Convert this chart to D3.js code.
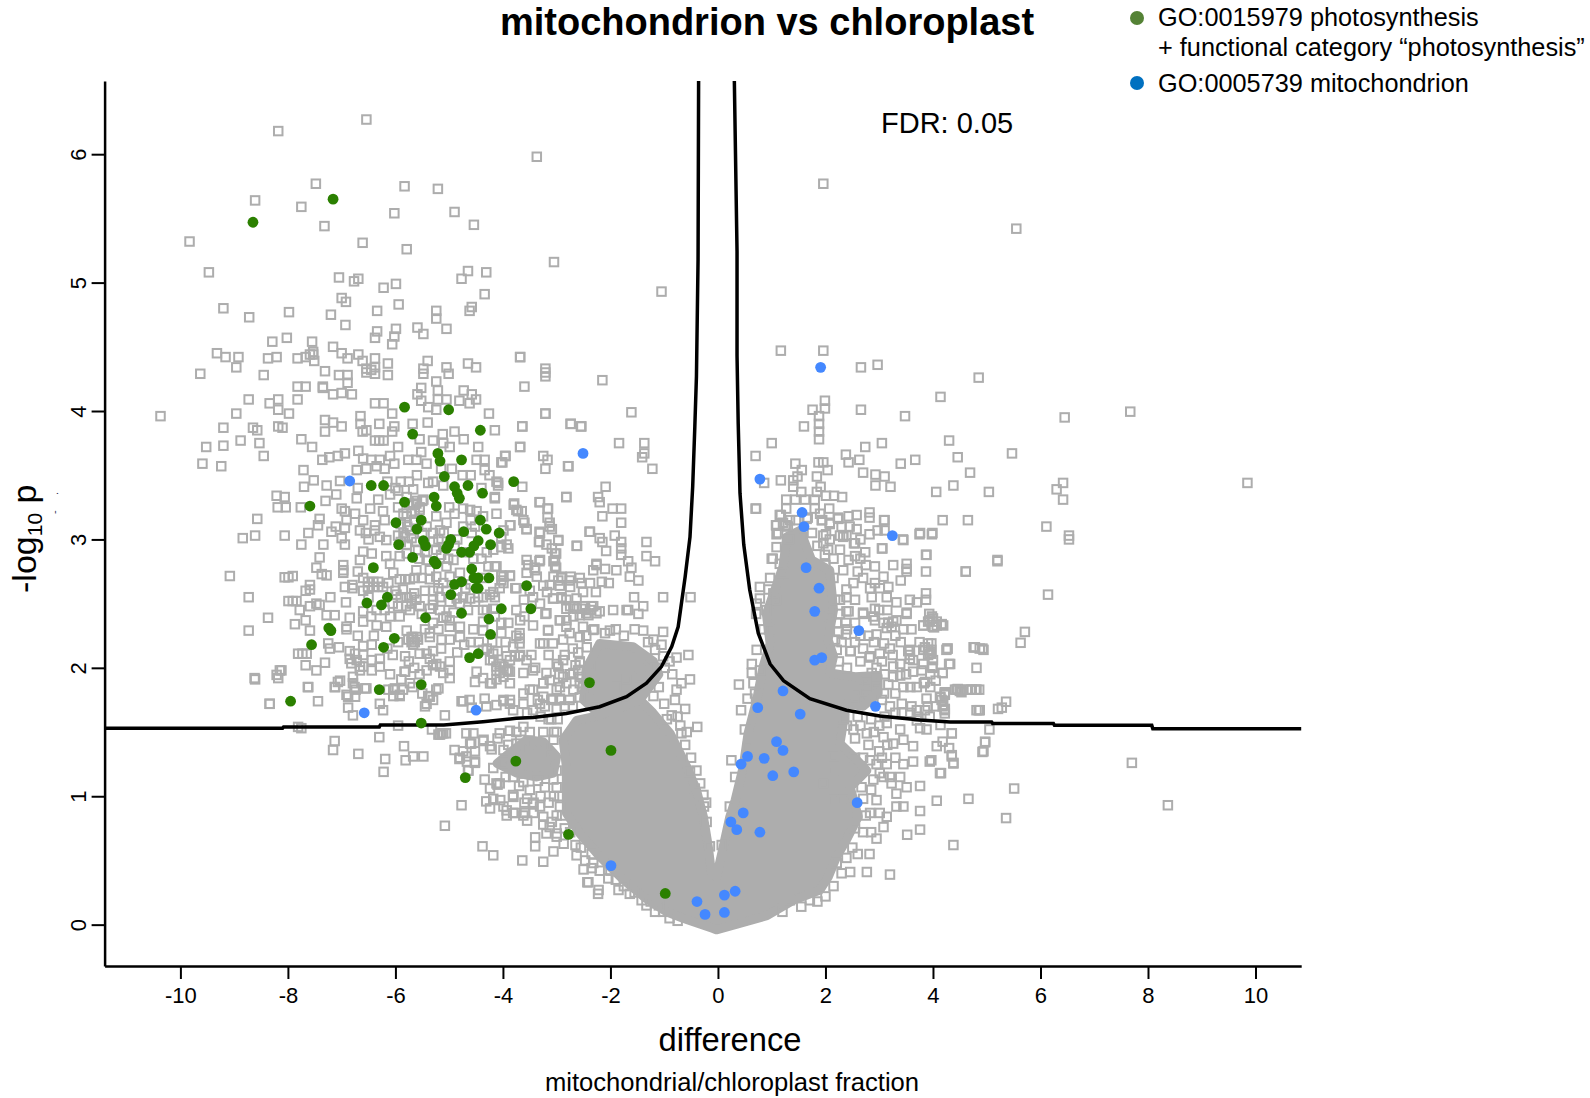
<!DOCTYPE html>
<html>
<head>
<meta charset="utf-8">
<script src="https://cdn.jsdelivr.net/npm/d3@7"></script>
<style>
  html, body { margin: 0; background: #fff; }
  svg { display: block; }
  text { font-family: "Liberation Sans", Arial, sans-serif; fill: #000; }
</style>
</head>
<body>
<div id="chart"></div>
<script>
const width = 1590;
const height = 1098;

const xTicks = [-10, -8, -6, -4, -2, 0, 2, 4, 6, 8, 10];
const yTicks = [0, 1, 2, 3, 4, 5, 6];

// upper left cloud as [difference, -log10 p]
const grayUpperLeft = [[-6.54,6.27],[-8.18,6.18],[-3.37,5.98],[-7.48,5.77],[-5.83,5.75],[-5.21,5.73],[-8.61,5.64],[-7.75,5.59],[-6.02,5.54],[-4.90,5.55],[-4.54,5.45],[-7.32,5.44],[-9.83,5.32],[-6.61,5.31],[-5.79,5.26],[-3.05,5.16],[-9.47,5.08],[-7.05,5.04],[-6.77,5.01],[-6.69,5.03],[-6.22,4.96],[-5.99,4.99],[-4.65,5.09],[-4.31,5.08],[-4.77,5.03],[-4.34,4.91],[-7.00,4.88],[-6.92,4.85],[-9.20,4.80],[-8.72,4.73],[-7.98,4.77],[-7.20,4.75],[-6.34,4.78],[-5.94,4.83],[-5.24,4.78],[-5.24,4.72],[-4.58,4.81],[-4.62,4.78],[-6.93,4.67],[-6.34,4.62],[-6.38,4.57],[-5.99,4.64],[-6.02,4.58],[-6.06,4.52],[-5.59,4.65],[-5.48,4.60],[-5.05,4.64],[-8.29,4.54],[-8.02,4.57],[-7.55,4.54],[-7.53,4.46],[-7.53,4.44],[-7.59,4.44],[-7.51,4.39],[-9.32,4.45],[-9.16,4.42],[-8.92,4.42],[-8.96,4.34],[-8.37,4.41],[-8.21,4.42],[-7.82,4.41],[-7.67,4.42],[-7.16,4.50],[-7.0,4.45],[-6.89,4.41],[-6.69,4.44],[-6.61,4.39],[-6.38,4.41],[-6.54,4.33],[-6.38,4.34],[-6.38,4.29],[-6.54,4.30],[-6.45,4.32],[-6.14,4.37],[-6.14,4.28],[-5.40,4.39],[-5.48,4.33],[-5.48,4.29],[-5.05,4.34],[-5.01,4.29],[-4.65,4.37],[-4.50,4.34],[-3.68,4.42],[-3.21,4.33],[-3.21,4.30],[-3.21,4.27],[-9.63,4.29],[-8.45,4.28],[-7.31,4.31],[-7.05,4.28],[-6.89,4.28],[-6.89,4.22],[-5.24,4.23],[-3.60,4.19],[-7.82,4.19],[-7.67,4.19],[-7.35,4.19],[-7.35,4.18],[-7.16,4.13],[-7.0,4.14],[-6.81,4.13],[-5.52,4.18],[-5.59,4.13],[-5.52,4.08],[-5.21,4.16],[-5.21,4.09],[-5.05,4.09],[-4.81,4.08],[-4.73,4.16],[-4.58,4.13],[-4.50,4.09],[-4.62,4.06],[-8.73,4.09],[-8.18,4.09],[-8.34,4.06],[-8.18,4.01],[-7.98,3.98],[-7.82,4.09],[-6.38,4.06],[-6.22,4.06],[-6.06,3.98],[-5.39,4.03],[-5.24,4.01],[-4.26,3.98],[-3.21,3.98],[-10.37,3.96],[-8.96,3.98],[-9.2,3.87],[-8.65,3.87],[-8.57,3.85],[-8.18,3.88],[-8.10,3.87],[-7.31,3.93],[-7.16,3.91],[-7.0,3.88],[-7.31,3.84],[-6.65,3.96],[-6.65,3.90],[-6.61,3.84],[-6.54,3.85],[-6.30,3.90],[-6.02,3.88],[-6.06,3.84],[-5.68,3.90],[-5.40,3.91],[-4.15,3.85],[-3.64,3.88],[-2.74,3.90],[-2.55,3.88],[-9.52,3.72],[-9.2,3.73],[-8.88,3.77],[-8.53,3.75],[-8.45,3.65],[-9.59,3.59],[-9.24,3.57],[-7.75,3.78],[-7.55,3.72],[-6.38,3.77],[-6.30,3.77],[-6.22,3.77],[-5.95,3.72],[-5.55,3.78],[-5.30,3.77],[-5.12,3.82],[-4.90,3.84],[-4.73,3.78],[-5.11,3.75],[-4.99,3.72],[-4.46,3.72],[-3.68,3.72],[-3.95,3.65],[-4.03,3.60],[-3.25,3.65],[-3.17,3.62],[-3.21,3.55],[-2.79,3.57],[-6.69,3.69],[-6.60,3.63],[-7.36,3.62],[-7.23,3.64],[-7.07,3.65],[-6.94,3.67],[-7.71,3.54],[-6.45,3.62],[-6.29,3.62],[-6.10,3.65],[-6.02,3.59],[-5.76,3.62],[-5.61,3.62],[-5.52,3.68],[-6.35,3.57],[-6.2,3.55],[-6.72,3.54],[-6.54,3.55],[-5.42,3.59],[-4.49,3.62],[-4.34,3.62],[-4.34,3.54]];

// middle left cloud between -log10 p 1.7 and 3.5
const grayMiddleLeft = [[-8.21,3.34],[-8.06,3.33],[-8.19,3.25],[-8.04,3.25],[-7.76,3.25],[-8.57,3.16],[-8.84,3.01],[-8.61,3.03],[-8.06,3.03],[-7.75,2.96],[-7.62,3.05],[-7.41,3.16],[-7.44,3.11],[-7.52,3.46],[-7.70,3.41],[-7.28,3.42],[-7.03,3.455],[-6.72,3.32],[-7.0,3.24],[-6.94,3.22],[-6.91,3.15],[-7.11,3.10],[-6.94,3.09],[-6.66,3.07],[-7.19,3.06],[-7.34,2.96],[-7.0,3.01],[-6.94,2.96],[-7.41,2.86],[-7.47,2.78],[-7.28,2.72],[-7.37,2.73],[-6.97,2.80],[-6.97,2.76],[-6.97,2.74],[-6.94,2.63],[-6.80,2.645],[-6.80,2.62],[-6.60,2.905],[-6.44,2.89],[-6.66,2.84],[-6.38,3.11],[-6.38,3.07],[-6.29,3.02],[-6.17,2.995],[-6.23,3.22],[-6.20,3.15],[-6.32,3.31],[-6.47,3.24],[-7.99,2.705],[-7.91,2.715],[-8.06,2.705],[-9.08,2.715],[-8.73,2.55],[-8.37,2.39],[-8.73,2.29],[-7.87,2.34],[-7.59,2.645],[-7.59,2.61],[-7.67,2.60],[-7.99,2.52],[-7.91,2.52],[-7.84,2.52],[-7.78,2.45],[-7.59,2.48],[-7.47,2.50],[-7.41,2.49],[-7.67,2.37],[-7.59,2.29],[-7.21,2.55],[-6.92,2.51],[-7.28,2.41],[-7.13,2.41],[-6.85,2.39],[-6.60,2.36],[-6.60,2.44],[-6.91,2.30],[-6.91,2.32],[-7.25,2.19],[-7.05,2.16],[-7.22,2.15],[-7.81,2.11],[-7.73,2.11],[-7.65,2.11],[-7.67,2.02],[-7.47,1.98],[-7.31,2.04],[-8.15,1.98],[-8.21,1.945],[-8.18,1.92],[-8.61,1.91],[-7.62,1.85],[-7.44,1.74],[-8.34,1.72],[-7.03,1.90],[-7.12,1.85],[-6.79,1.88],[-6.74,1.83],[-6.88,1.775],[-6.54,1.84],[-6.75,1.775],[-6.85,2.13],[-6.75,2.11],[-6.60,2.17],[-6.44,2.18],[-6.72,2.06],[-6.60,2.10],[-6.85,2.07],[-6.82,2.035],[-6.60,2.01],[-6.44,2.06],[-6.29,2.07],[-6.66,1.98],[-6.44,1.98],[-6.29,2.01],[-5.82,2.09],[-5.55,2.11],[-5.82,1.97],[-6.01,1.84],[-5.86,1.83],[-6.13,1.83],[-5.92,1.78],[-6.04,1.78],[-5.20,1.84],[-5.36,1.775],[-5.42,1.72],[-5.42,2.11],[-5.30,2.02],[-5.17,2.01],[-4.99,1.98],[-4.99,1.92],[-4.74,1.74],[-4.52,1.89],[-4.58,1.69],[-4.37,1.92],[-4.21,1.88],[-4.12,2.01],[-3.93,1.98],[-3.99,1.93],[-4.49,1.97],[-5.36,2.24],[-5.14,2.22],[-4.99,2.22],[-4.80,2.24],[-5.79,2.29],[-5.67,2.24],[-5.70,2.20],[-5.58,2.22],[-5.36,2.27],[-4.99,2.37],[-5.05,2.40],[-4.92,2.43],[-4.80,2.32],[-4.99,2.32],[-4.37,2.29],[-4.37,2.36],[-4.15,2.40],[-4.03,2.35],[-4.03,2.27],[-6.35,2.33],[-6.17,2.32],[-6.10,2.40],[-5.92,2.40],[-5.70,2.50],[-5.79,2.55],[-5.70,2.55],[-5.61,2.53],[-5.55,2.48],[-5.73,2.45],[-5.51,2.42],[-5.86,2.61],[-5.98,2.57],[-6.51,2.67],[-6.41,2.67],[-6.32,2.67],[-6.51,2.63],[-6.41,2.63],[-6.32,2.63],[-6.23,2.63],[-6.13,2.66],[-6.04,2.74],[-5.92,2.69],[-5.82,2.69],[-5.73,2.69],[-5.64,2.70],[-5.51,2.70],[-5.36,2.69],[-5.24,2.71],[-5.11,2.66],[-6.10,2.81],[-5.92,2.87],[-6.17,2.87],[-5.79,2.89],[-5.61,2.76],[-5.42,2.84],[-5.36,2.76],[-5.58,2.92],[-5.05,2.79],[-4.92,2.84],[-4.99,2.71],[-4.80,2.74],[-5.79,3.33],[-5.67,3.39],[-5.61,3.28],[-5.48,3.31],[-5.70,3.20],[-5.79,3.18],[-5.55,3.23],[-5.39,3.44],[-5.30,3.45],[-5.11,3.42],[-5.73,3.07],[-5.82,3.02],[-5.70,3.01],[-5.79,2.96],[-5.61,2.98],[-5.42,3.10],[-5.30,3.05],[-5.30,2.98],[-5.24,2.92],[-5.05,3.13],[-5.17,3.07],[-5.11,2.94],[-5.24,3.18],[-4.74,3.24],[-4.61,3.23],[-4.49,3.22],[-4.37,3.18],[-4.15,3.32],[-4.09,3.44],[-4.52,3.10],[-4.58,3.05],[-4.12,3.20],[-3.99,3.07],[-3.93,2.96],[-4.18,2.92],[-4.03,2.94],[-4.74,3.10],[-4.15,2.79],[-3.99,2.71],[-3.99,2.66],[-4.27,2.79],[-4.37,2.70],[-4.06,2.62],[-4.37,2.55],[-4.24,2.57],[-4.15,2.55],[-4.61,2.54],[-4.52,2.515],[-4.46,2.55],[-4.74,2.55],[-4.65,2.45],[-4.37,2.45],[-4.18,2.46],[-5.30,2.53],[-5.17,2.55],[-5.30,2.49],[-5.17,2.45],[-5.36,2.46],[-5.11,2.39],[-4.99,2.515],[-4.86,2.54],[-4.80,2.50],[-4.37,2.14],[-4.24,2.06],[-4.12,1.98],[-4.06,2.03],[-3.93,2.09],[-3.90,1.98],[-5.36,2.07],[-5.24,2.03],[-4.99,2.05],[-5.42,1.98],[-5.11,1.96],[-4.12,1.91],[-5.67,3.27],[-5.60,3.30],[-5.55,3.25],[-5.64,3.22],[-5.5,3.3],[-5.76,2.22],[-5.70,2.24],[-5.64,2.20],[-5.60,2.24],[-5.67,2.18],[-5.95,3.25],[-5.85,3.2],[-5.75,3.28],[-5.9,3.12],[-5.85,3.05],[-5.95,3.03],[-5.9,2.98],[-5.78,3.1],[-5.65,3.15],[-5.5,3.05],[-5.45,2.9],[-5.55,2.85],[-5.2,3.0],[-5.15,2.88],[-5.1,3.05],[-4.9,2.95],[-4.85,3.0],[-5.02,2.85],[-4.9,3.2],[-5.0,3.25],[-4.6,3.15],[-4.65,2.9],[-4.4,2.85],[-4.3,2.9],[-4.55,2.85],[-6.0,2.6],[-5.9,2.55],[-5.8,2.48],[-5.95,2.48],[-6.05,2.5],[-6.2,2.45],[-6.35,2.45],[-6.45,2.4],[-6.5,2.55],[-5.65,2.58],[-5.45,2.6],[-5.3,2.6],[-5.2,2.62],[-5.05,2.6],[-4.85,2.6],[-4.7,2.62],[-4.6,2.65],[-5.45,2.3],[-5.3,2.35],[-5.2,2.3],[-5.15,2.15],[-5.3,2.13],[-4.85,2.12],[-4.72,2.18],[-4.6,2.2],[-4.55,2.3],[-4.2,2.2],[-4.3,2.15],[-4.1,2.13],[-5.75,2.05],[-5.65,2.0],[-5.55,1.95],[-5.68,1.85],[-5.5,1.8],[-6.15,2.15],[-6.05,2.1],[-6.1,1.95],[-5.95,2.2],[-6.4,2.25],[-6.7,2.25],[-6.6,2.7],[-6.7,2.75],[-6.6,2.6],[-6.55,3.05],[-6.6,3.15],[-6.75,3.2],[-6.5,3.0],[-6.1,3.35],[-6.15,3.45],[-6.0,3.4],[-5.9,3.45],[-5.95,3.38],[-6.7,3.4],[-7.1,3.35],[-7.3,3.3],[-4.4,3.4],[-4.25,3.5],[-4.6,3.5],[-4.75,3.5],[-4.95,3.55],[-5.15,3.55],[-5.6,3.5],[-5.75,3.45],[-4.3,2.45],[-4.45,2.2],[-3.95,2.2],[-3.75,2.25],[-3.9,2.35],[-3.75,2.45],[-3.6,2.4],[-3.5,2.6]];

// from x -4.1 up to the curve, above the threshold
const grayInnerLeft = [[-3.64,3.41],[-4.12,3.45],[-4.09,3.42],[-4.15,3.33],[-3.79,3.28],[-3.75,3.23],[-3.65,3.22],[-3.31,3.29],[-2.82,3.33],[-3.16,3.24],[-3.62,3.15],[-3.56,3.08],[-3.86,3.11],[-4.03,3.02],[-3.31,3.05],[-3.33,2.98],[-3.13,3.10],[-2.97,2.996],[-2.38,3.06],[-2.63,2.95],[-2.2,3.01],[-3.90,2.93],[-3.19,2.96],[-3.56,2.84],[-3.31,2.84],[-3.41,2.78],[-3.56,2.74],[-3.03,2.89],[-3.03,2.84],[-3.03,2.79],[-2.26,2.80],[-2.32,2.76],[-2.91,2.71],[-2.97,2.68],[-2.76,2.68],[-2.57,2.70],[-2.38,2.66],[-3.13,2.645],[-4.12,2.79],[-4.03,2.72],[-4.03,2.68],[-3.87,2.715],[-4.18,2.59],[-3.75,2.62],[-3.44,2.55],[-3.31,2.50],[-3.07,2.54],[-2.91,2.54],[-2.82,2.53],[-2.69,2.48],[-2.51,2.48],[-2.32,2.48],[-3.19,2.425],[-2.94,2.37],[-2.82,2.37],[-2.69,2.40],[-2.45,2.425],[-2.26,2.425],[-2.82,2.32],[-3.44,2.33],[-3.16,2.295],[-2.76,2.27],[-2.32,2.295],[-3.69,2.27],[-3.69,2.23],[-3.69,2.19],[-3.81,2.165],[-3.25,2.19],[-3.07,2.19],[-2.88,2.22],[-2.57,2.24],[-4.18,2.11],[-4.18,2.06],[-3.99,2.01],[-3.87,2.06],[-3.69,2.09],[-3.56,2.06],[-3.47,2.10],[-2.88,2.06],[-2.57,2.04],[-2.38,2.01],[-2.97,2.01],[-3.19,1.96],[-3.13,1.905],[-3.25,1.88],[-3.44,1.98],[-4.06,1.96],[-3.87,1.88],[-4.24,1.88],[-2.94,1.85],[-2.69,1.96],[-2.57,1.88],[-3.44,1.83],[-3.62,1.80],[-3.25,1.775],[-3.07,1.76],[-2.94,1.76],[-3.87,1.75],[-4.12,1.71],[-3.62,1.72],[-4.77,1.74],[-4.62,1.75],[-4.34,1.76],[-3.99,1.74],[-4.31,1.70],[-3.81,1.67],[-3.44,1.67],[-3.22,1.70],[-2.76,1.75],[-5.30,1.75],[-5.45,1.70],[-5.24,1.83],[-5.39,1.78],[-5.08,1.63],[-5.89,1.91],[-5.83,1.97],[-5.73,1.88],[-6.04,1.83],[-5.92,1.79],[-6.23,1.67],[-6.29,1.72],[-6.79,1.63],[-6.88,1.69],[-6.91,1.79],[-6.76,1.85],[-7.07,1.89],[-7.13,1.85],[-6.57,1.84],[-6.79,1.93],[-6.66,2.01],[-8.34,1.72],[-7.63,1.85],[-8.62,1.92],[-8.12,1.98],[-1.05,4.93],[-3.68,4.42],[-2.15,4.24],[-3.21,3.98],[-1.61,3.99],[-3.64,3.88],[-2.74,3.90],[-2.54,3.88],[-3.68,3.72],[-1.84,3.75],[-1.37,3.75],[-1.37,3.67],[-1.41,3.64],[-1.22,3.55],[-3.96,3.65],[-4.01,3.60],[-2.78,3.57],[-2.09,3.41],[-2.82,3.33],[-2.23,3.33],[-2.2,3.29],[-3.32,3.29],[-3.80,3.27],[-3.17,3.24],[-3.17,3.17],[-3.13,3.13],[-3.09,3.08],[-3.72,3.22],[-3.60,3.13],[-3.56,3.08],[-3.87,3.11],[-1.96,3.24],[-1.80,3.24],[-2.15,3.18],[-1.80,3.13],[-2.39,3.06],[-1.92,3.03],[-3.32,3.06],[-3.32,2.98],[-2.97,2.99],[-3.09,2.93],[-2.62,2.95],[-2.15,2.98],[-2.08,2.91],[-1.80,2.98],[-1.80,2.93],[-1.80,2.88],[-1.33,2.98],[-1.33,2.87],[-1.17,2.83],[-3.01,2.89],[-3.06,2.83],[-3.32,2.83],[-3.53,2.80],[-3.40,2.76],[-3.01,2.78],[-2.26,2.81],[-2.10,2.77],[-1.89,2.76],[-1.67,2.83],[-1.61,2.78],[-1.64,2.71],[-1.48,2.68],[-3.87,2.72],[-3.37,2.71],[-3.06,2.71],[-2.91,2.70],[-2.74,2.71],[-2.54,2.66],[-2.16,2.67],[-2.03,2.66],[-3.77,2.62],[-3.25,2.64],[-2.94,2.64],[-2.75,2.63],[-3.18,2.59],[-2.51,2.59],[-2.27,2.59],[-1.56,2.55],[-1.02,2.55],[-0.51,2.55],[-3.06,2.54],[-2.91,2.55],[-2.63,2.54],[-3.61,2.53],[-2.82,2.46],[-2.63,2.46],[-2.47,2.46],[-2.35,2.48],[-2.2,2.44],[-1.95,2.45],[-1.67,2.45],[-1.39,2.48],[-3.21,2.42],[-2.41,2.41],[-2.57,2.41],[-1.48,2.42],[-1.70,2.45],[-2.38,2.45],[-2.75,2.48],[-2.94,2.37],[-3.16,2.29],[-3.68,2.37],[-2.51,2.32],[-2.01,2.29],[-1.39,2.29],[-1.20,2.22],[-1.17,2.14],[-1.02,2.09],[-3.31,2.19],[-3.78,2.09],[-3.68,2.10],[-3.40,2.0],[-3.0,2.03],[-2.57,2.05],[-3.87,1.97],[-3.62,1.96],[-3.25,1.88],[-3.5,1.83],[-3.0,1.83],[-3.87,1.72],[-3.31,1.72],[-2.94,1.75],[-2.57,1.77],[-2.26,1.77],[-3.99,1.75],[-2.82,1.88],[-2.57,1.93],[-2.51,1.85],[-2.88,1.93],[-2.69,1.83],[-1.89,1.85],[-1.70,1.91],[-1.76,1.775],[-1.45,2.06],[-1.45,1.93],[-2.44,2.16],[-0.86,1.63],[-0.61,1.68],[-0.80,1.75],[-0.77,1.83],[-0.68,1.88],[-0.52,1.91],[-0.77,2.08],[-0.55,2.10],[-1.02,2.28],[-0.99,2.0],[-2.7,2.15],[-2.6,2.12],[-2.45,2.25],[-2.3,2.3],[-2.1,2.27],[-1.9,2.3],[-1.75,2.25],[-1.55,2.3],[-1.3,2.2],[-1.15,2.0],[-1.05,2.18],[-0.9,2.05],[-0.85,1.95],[-1.1,1.85],[-1.2,1.78],[-1.0,1.72],[-0.95,1.6],[-0.75,1.62],[-2.65,2.02],[-2.6,1.98],[-2.75,1.95],[-2.85,2.1],[-3.1,1.75],[-3.0,1.68],[-2.85,1.7],[-2.7,1.7],[-2.95,1.95],[-3.15,2.1],[-3.35,1.75],[-3.55,1.65],[-3.15,1.6],[-3.3,1.62]];

// left side below the threshold, outside the solid core
const grayLowerLeft = [[-7.75,1.53],[-7.81,1.54],[-5.95,1.55],[-6.30,1.46],[-7.13,1.43],[-7.16,1.36],[-6.69,1.33],[-6.19,1.29],[-6.22,1.19],[-5.84,1.39],[-5.81,1.28],[-5.67,1.31],[-5.48,1.31],[-5.17,1.48],[-5.11,1.49],[-4.90,1.36],[-4.68,1.49],[-4.59,1.41],[-4.68,1.31],[-4.80,1.30],[-4.52,1.27],[-4.37,1.43],[-4.24,1.39],[-4.65,1.20],[-4.34,1.13],[-4.12,1.10],[-3.81,1.01],[-4.18,1.22],[-3.99,1.26],[-3.75,1.41],[-3.50,1.39],[-3.81,1.15],[-3.62,1.11],[-4.74,1.35],[-4.52,1.35],[-4.81,1.29],[-4.67,1.27],[-4.52,1.26],[-4.64,1.20],[-4.55,1.49],[-4.61,1.41],[-4.36,1.44],[-4.21,1.365],[-5.14,1.49],[-5.06,1.49],[-5.20,1.48],[-5.32,1.52],[-4.24,1.06],[-4.10,1.09],[-3.81,0.996],[-4.31,0.96],[-4.18,0.98],[-4.05,0.97],[-4.24,0.905],[-4.77,0.93],[-3.93,0.89],[-3.93,0.85],[-3.77,0.87],[-3.62,0.85],[-3.43,0.95],[-3.31,0.92],[-3.43,0.87],[-3.55,0.81],[-3.25,0.78],[-3.09,0.80],[-3.19,0.71],[-3.0,0.685],[-5.08,0.77],[-4.38,0.61],[-4.18,0.54],[-3.64,0.50],[-3.25,0.49],[-3.40,0.68],[-3.40,0.61],[-3.06,0.57],[-2.63,0.54],[-2.50,0.43],[-2.41,0.33],[-2.22,0.27],[-2.87,0.63],[-2.32,0.48],[-2.47,0.50],[-2.35,0.44],[-2.43,0.33],[-2.23,0.24],[-2.04,0.36],[-1.85,0.27],[-1.64,0.24],[-1.42,0.19],[-1.17,0.10],[-1.02,0.10],[-1.33,0.15],[-0.61,1.40],[-0.58,1.50],[-0.385,1.54],[-0.52,1.19],[-0.43,1.06],[-0.27,1.01],[-0.26,0.92],[-0.21,0.80],[-0.15,0.61],[-0.68,1.49],[-4.06,1.49],[-3.87,1.51],[-3.62,1.54],[-3.25,1.50],[-3.06,1.44],[-3.25,1.39],[-3.44,1.41],[-3.68,1.44],[-3.99,1.36],[-3.13,1.33],[-4.06,1.10],[-3.81,0.995],[-3.44,0.94],[-3.25,0.84],[-3.0,1.07],[-2.94,0.92],[-3.13,0.76],[-3.0,0.71],[-3.81,0.87],[-3.99,0.92],[-3.59,0.87],[-3.22,1.07],[-3.06,1.13],[-3.0,1.5],[-2.98,1.6],[-3.1,1.6],[-3.0,1.2],[-2.95,1.0],[-2.9,0.85],[-2.75,0.72],[-2.65,0.62],[-2.55,0.6],[-2.35,0.55],[-2.2,0.42],[-2.0,0.42],[-1.9,0.35],[-1.75,0.3],[-1.55,0.25],[-1.25,0.18],[-1.1,0.15],[-0.9,0.05],[-0.75,0.03],[-0.5,1.3],[-0.7,1.55],[-0.4,1.2],[-0.33,1.1],[-0.22,0.95],[-3.5,1.5],[-3.75,1.5],[-3.9,1.4],[-4.1,1.45],[-3.95,1.15],[-3.7,1.08],[-3.5,1.05],[-3.3,1.0],[-3.15,0.95],[-3.05,1.0],[-3.55,0.98],[-3.35,1.12],[-3.6,0.95],[-3.05,1.5],[-3.0,0.85],[-2.85,0.75]];

// right side above the threshold
const grayUpperRight = [[1.96,5.77],[5.55,5.42],[1.17,4.47],[1.96,4.47],[2.66,4.34],[2.97,4.36],[4.85,4.26],[4.14,4.11],[1.99,4.08],[1.99,4.02],[1.76,4.01],[2.66,4.01],[3.48,3.96],[6.45,3.95],[7.67,3.995],[1.88,3.96],[1.88,3.90],[1.88,3.84],[1.88,3.78],[1.60,3.88],[1.0,3.75],[0.70,3.65],[2.74,3.72],[3.05,3.75],[4.30,3.77],[5.47,3.67],[4.46,3.64],[3.67,3.62],[3.40,3.59],[2.38,3.66],[2.43,3.60],[2.63,3.62],[1.87,3.60],[1.96,3.60],[2.04,3.54],[1.44,3.59],[1.56,3.54],[2.70,3.52],[2.93,3.505],[3.10,3.49],[4.69,3.52],[1.17,3.46],[0.86,3.44],[1.40,3.46],[1.48,3.49],[1.40,3.41],[1.84,3.49],[2.93,3.42],[3.21,3.41],[4.38,3.42],[4.06,3.37],[5.04,3.37],[6.42,3.44],[6.30,3.39],[6.42,3.31],[9.85,3.44],[0.70,3.24],[2.31,3.33],[2.16,3.34],[2.01,3.34],[1.91,3.41],[1.84,3.37],[1.55,3.37],[1.27,3.31],[1.44,3.31],[1.62,3.31],[1.80,3.31],[1.27,3.24],[1.80,3.24],[2.07,3.24],[1.17,3.19],[1.67,3.17],[2.23,3.17],[2.43,3.18],[2.58,3.19],[2.82,3.21],[2.82,3.17],[1.94,3.15],[2.08,3.13],[3.10,3.15],[4.18,3.15],[4.65,3.15],[6.11,3.10],[6.53,3.03],[1.09,3.11],[1.26,3.11],[1.09,3.04],[2.58,3.08],[2.82,3.04],[2.97,3.07],[3.10,3.07],[3.44,3.0],[3.75,3.04],[3.98,3.04],[2.01,3.04],[2.33,3.02],[1.32,3.0],[1.09,2.94],[2.27,2.92],[2.53,2.97],[2.74,2.90],[3.05,2.93],[3.87,2.88],[1.02,2.85],[2.65,2.85],[5.20,2.84],[0.71,3.24],[1.15,3.19],[1.08,3.11],[1.25,3.11],[1.12,3.05],[1.56,3.02],[1.93,3.15],[2.08,3.12],[2.24,3.16],[3.09,3.15],[3.45,2.995],[3.76,3.05],[3.99,3.05],[3.88,2.88],[3.87,2.75],[4.61,2.75],[3.06,2.93],[2.27,3.03],[2.33,3.03],[2.39,3.03],[2.55,2.97],[2.55,2.87],[3.26,2.80],[2.92,2.79],[3.51,2.81],[3.51,2.77],[3.51,2.75],[3.08,2.71],[3.40,2.68],[2.70,2.70],[2.92,2.66],[3.17,2.63],[2.83,2.62],[3.01,2.62],[2.86,2.55],[3.87,2.58],[3.87,2.53],[3.70,2.51],[3.57,2.53],[3.32,2.51],[3.14,2.55],[2.92,2.46],[2.70,2.43],[2.43,2.44],[3.51,2.43],[3.98,2.40],[3.82,2.33],[4.0,2.32],[4.16,2.34],[3.91,2.36],[4.07,2.36],[2.92,2.37],[2.89,2.40],[3.08,2.35],[3.17,2.35],[3.26,2.36],[3.14,2.31],[3.23,2.32],[2.95,2.26],[3.09,2.19],[2.38,2.35],[2.38,2.26],[2.24,2.28],[2.47,2.13],[2.82,2.08],[3.01,2.11],[3.25,2.10],[3.57,2.14],[3.57,2.10],[3.57,2.07],[3.91,2.19],[3.91,2.14],[3.91,2.10],[3.85,2.16],[3.97,2.11],[4.27,2.15],[4.76,2.16],[4.87,2.15],[4.32,2.03],[4.18,1.96],[3.99,2.0],[3.82,2.03],[3.63,1.97],[3.79,1.98],[3.39,2.03],[3.26,2.01],[3.39,1.94],[3.26,1.93],[3.17,1.87],[3.83,1.88],[3.58,1.85],[4.44,1.83],[4.53,1.83],[4.63,1.83],[4.72,1.83],[4.81,1.83],[4.22,1.81],[4.13,1.775],[4.19,1.71],[4.22,1.67],[3.09,1.80],[3.42,1.72],[3.60,1.70],[3.42,1.65],[3.58,1.65],[3.85,1.67],[3.73,1.62],[3.94,1.62],[4.81,1.67],[0.78,2.63],[0.97,2.70],[1.03,2.58],[0.78,2.54],[1.0,2.85],[1.21,2.74],[1.15,2.81],[0.94,2.61],[1.09,2.53],[0.71,2.42],[0.72,2.50],[0.72,2.14],[0.63,1.96],[0.63,2.03],[0.78,1.98],[0.66,1.88],[0.69,1.80],[2.27,2.53],[2.15,2.70],[2.39,2.61],[2.39,2.55],[2.43,2.84],[2.33,2.76],[2.52,2.66],[2.55,2.53],[2.18,2.53],[2.08,2.40],[2.21,2.35],[2.27,2.42],[2.18,2.22],[2.21,2.14],[2.05,2.92],[1.96,2.97],[2.08,3.0],[1.96,3.03],[1.99,2.88],[1.21,3.13],[1.34,3.15],[1.65,3.16],[1.90,3.2],[2.73,1.91],[2.86,1.96],[2.77,1.83],[2.58,1.77],[2.73,1.75],[2.89,1.81],[5.20,2.83],[4.61,2.75],[6.14,2.57],[6.53,3.0],[5.71,2.28],[5.63,2.195],[4.76,2.16],[4.92,2.15],[4.27,2.15],[4.81,2.0],[4.30,2.03],[4.18,1.96],[3.99,2.01],[4.0,2.385],[4.16,2.34],[4.02,2.315],[3.97,2.14],[3.97,2.19],[4.46,1.835],[4.53,1.81],[4.72,1.83],[4.79,1.83],[4.86,1.83],[4.22,1.80],[4.14,1.77],[4.18,1.70],[4.22,1.645],[5.36,1.736],[5.28,1.69],[4.85,1.67],[4.25,2.14],[4.78,2.16],[4.94,2.14],[3.82,2.14],[3.54,2.13],[3.94,2.11],[3.85,1.89],[4.0,2.06],[3.63,2.06],[2.83,2.09],[2.46,2.13],[2.70,2.42],[2.39,2.44],[3.51,2.42],[3.93,2.42],[3.94,2.37],[4.07,2.33],[3.82,2.33],[4.19,2.33],[3.17,2.35],[3.32,2.37],[4.41,1.83],[4.50,1.82],[4.22,1.79],[4.16,1.75],[4.22,1.68],[4.87,1.67],[5.21,1.68],[3.88,1.76],[3.70,1.67],[2.77,1.88],[2.95,1.91],[2.58,1.80],[2.77,1.78],[2.95,1.85],[2.70,1.75],[0.39,1.87],[0.55,1.76],[0.43,1.67],[1.3,3.1],[1.45,3.15],[1.75,3.05],[1.85,2.95],[2.0,2.8],[2.15,2.85],[0.9,2.45],[0.85,2.3],[0.95,2.3],[2.25,2.05],[2.4,2.0],[2.65,2.05],[3.05,1.75],[3.1,1.95],[2.95,2.0],[2.6,2.75],[2.75,2.8],[2.3,3.1],[2.45,3.1],[2.65,3.0],[2.4,2.3],[2.55,2.35],[2.65,2.25],[2.8,2.25],[2.55,2.2],[2.7,2.15],[2.9,2.2],[2.3,2.2],[3.0,2.45],[3.15,2.45],[3.3,2.25],[3.45,2.3],[3.6,2.3],[3.4,2.2],[3.75,2.2],[3.2,2.15],[3.05,2.05],[3.45,1.85],[3.3,1.8],[3.7,1.85],[3.95,1.85],[4.05,1.9],[3.5,1.95],[3.2,1.7],[3.3,1.65],[3.1,1.62],[3.9,1.7],[4.05,1.7],[3.95,1.95]];

// right side below the threshold, outside the solid core
const grayLowerRight = [[5.05,1.52],[4.35,1.49],[4.14,1.555],[4.97,1.425],[4.92,1.345],[4.18,1.425],[4.07,1.39],[4.30,1.375],[4.35,1.31],[4.38,1.26],[3.97,1.28],[4.15,1.18],[5.51,1.06],[4.07,0.965],[4.66,0.98],[5.36,0.83],[4.38,0.62],[7.70,1.26],[8.37,0.93],[0.50,1.52],[0.56,1.385],[0.25,1.28],[0.32,1.15],[0.22,0.92],[0.07,0.62],[1.71,0.19],[1.34,0.19],[2.21,0.48],[2.46,0.41],[2.77,0.41],[3.20,0.39],[2.82,0.55],[2.39,0.52],[3.52,0.70],[3.76,0.74],[3.76,0.885],[3.45,0.92],[3.32,0.92],[3.08,0.76],[2.95,0.67],[3.01,0.87],[3.14,0.84],[2.83,0.87],[2.95,0.97],[3.32,1.02],[3.23,1.10],[3.51,1.07],[3.76,1.08],[3.39,1.15],[4.13,1.18],[3.63,1.27],[3.94,1.27],[4.38,1.255],[4.35,1.32],[4.94,1.35],[4.97,1.42],[4.35,1.49],[3.88,1.52],[3.63,1.39],[3.08,1.46],[3.26,1.41],[3.45,1.44],[2.83,1.28],[2.67,1.07],[3.01,1.18],[3.08,1.15],[2.89,1.13],[3.14,1.25],[2.77,1.49],[2.52,1.52],[2.15,1.31],[2.15,1.20],[1.96,1.10],[2.33,0.97],[2.15,0.97],[3.14,1.57],[3.39,1.52],[3.76,1.53],[3.70,1.59],[2.4,1.55],[2.55,1.45],[2.65,1.55],[2.8,1.4],[2.9,1.5],[3.0,1.35],[3.15,1.4],[2.55,1.3],[2.7,1.3],[2.95,1.25],[3.05,1.3],[2.35,1.6],[2.6,1.62],[2.85,1.6],[3.0,1.55],[3.3,1.3],[3.45,1.25],[3.2,1.15],[2.85,1.05],[2.7,0.98],[2.55,0.75],[2.7,0.72],[2.5,0.6],[2.6,0.55],[2.3,0.4],[2.15,0.3],[2.0,0.22],[1.85,0.18],[1.55,0.14],[1.2,0.1],[2.75,0.85],[2.85,0.72]];

// the saturated middle of the volcano, where single squares can no longer be
// told apart: outlines
const denseCore = [[-0.09,-0.03],[-0.65,0.05],[-0.96,0.10],[-1.39,0.22],[-1.76,0.35],[-2.20,0.53],[-2.57,0.71],[-2.82,0.87],[-2.82,1.23],[-2.88,1.44],[-2.63,1.59],[-2.20,1.63],[-1.45,1.75],[-1.21,1.65],[-0.89,1.49],[-0.58,1.23],[-0.40,1.05],[-0.27,0.84],[-0.18,0.61],[-0.12,0.40],[-0.03,0.37],[0.07,0.555],[0.22,0.84],[0.32,0.97],[0.47,1.23],[0.56,1.49],[0.72,1.75],[0.84,2.01],[0.97,2.19],[0.90,2.42],[1.21,2.79],[1.28,3.02],[1.53,3.07],[1.74,2.84],[2.08,2.76],[2.15,2.45],[2.05,2.22],[2.15,2.09],[2.08,1.96],[2.55,1.93],[2.98,1.94],[2.98,1.80],[2.70,1.70],[2.39,1.72],[2.27,1.41],[2.52,1.31],[2.77,1.2],[2.46,1.07],[2.61,0.84],[2.39,0.66],[2.21,0.53],[2.05,0.37],[1.90,0.27],[1.40,0.19],[0.91,0.07],[0.32,0.0],[-0.03,-0.04]];
const denseLumpLeft = [[-4.11,1.256],[-3.81,1.36],[-3.56,1.44],[-3.25,1.425],[-3.0,1.31],[-3.06,1.18],[-3.37,1.15],[-3.74,1.18]];
const denseLumpUpper = [[-2.44,2.0],[-2.20,2.19],[-1.58,2.165],[-1.20,2.05],[-1.10,1.95],[-1.45,1.75],[-2.2,1.63],[-2.5,1.75]];

const curveLeft = [[-11.41,1.53],[-8.1,1.53],[-8.08,1.54],[-6.3,1.54],[-6.28,1.555],[-5.1,1.555],[-4.37,1.58],[-3.75,1.607],[-3.44,1.614],[-2.82,1.645],[-2.20,1.697],[-1.70,1.775],[-1.33,1.88],[-1.05,2.01],[-0.86,2.165],[-0.74,2.32],[-0.61,2.71],[-0.52,3.02],[-0.47,3.41],[-0.43,3.88],[-0.40,4.27],[-0.37,5.18],[-0.36,6.57]];
const curveRight = [[0.305,6.57],[0.355,5.24],[0.355,4.43],[0.377,3.9],[0.41,3.36],[0.48,2.96],[0.59,2.61],[0.75,2.27],[0.97,2.03],[1.22,1.90],[1.71,1.76],[2.39,1.67],[3.01,1.625],[3.76,1.594],[4.32,1.578],[5.09,1.578],[5.11,1.567],[6.24,1.567],[6.26,1.552],[8.07,1.552],[8.09,1.525],[10.85,1.525]];

const greenPoints = [[-8.65,5.47],[-7.16,5.65],[-5.83,4.03],[-5.01,4.01],[-4.42,3.85],[-5.68,3.82],[-5.21,3.67],[-5.17,3.61],[-4.77,3.62],[-5.09,3.49],[-3.80,3.45],[-6.45,3.42],[-6.22,3.42],[-4.90,3.41],[-4.85,3.36],[-4.81,3.32],[-4.65,3.42],[-4.38,3.36],[-7.59,3.26],[-5.28,3.33],[-5.24,3.26],[-5.83,3.29],[-5.99,3.13],[-5.52,3.15],[-5.60,3.08],[-4.42,3.15],[-4.31,3.08],[-4.07,3.05],[-4.73,3.06],[-4.97,3.0],[-5.94,2.96],[-5.48,2.99],[-5.44,2.95],[-5.05,2.93],[-5.01,2.96],[-4.46,2.99],[-4.54,2.95],[-4.62,2.90],[-4.77,2.90],[-4.23,2.96],[-5.68,2.86],[-5.28,2.83],[-5.24,2.81],[-6.41,2.78],[-4.58,2.77],[-4.54,2.70],[-4.46,2.70],[-4.26,2.70],[-4.77,2.67],[-4.90,2.65],[-4.50,2.62],[-4.46,2.62],[-3.56,2.64],[-4.97,2.57],[-6.15,2.55],[-6.53,2.505],[-6.26,2.49],[-5.44,2.39],[-4.77,2.425],[-4.03,2.46],[-3.48,2.46],[-4.26,2.38],[-4.23,2.26],[-7.24,2.31],[-7.20,2.29],[-7.56,2.18],[-6.02,2.23],[-6.22,2.16],[-4.46,2.11],[-4.62,2.08],[-5.52,1.87],[-6.30,1.83],[-7.95,1.74],[-5.52,1.57],[-2.39,1.885],[-3.76,1.274],[-4.70,1.145],[-1.99,1.357],[-2.78,0.703],[-0.98,0.243]];

const bluePoints = [[-2.51,3.67],[-6.85,3.455],[-6.58,1.65],[-4.50,1.67],[1.91,4.34],[0.78,3.47],[1.565,3.21],[1.60,3.10],[3.245,3.03],[1.64,2.78],[1.88,2.62],[1.80,2.44],[2.62,2.29],[1.80,2.06],[1.93,2.08],[1.21,1.82],[0.74,1.69],[1.53,1.64],[2.93,1.70],[1.09,1.425],[1.21,1.357],[0.55,1.31],[0.43,1.25],[0.86,1.295],[1.02,1.16],[1.41,1.19],[2.59,0.95],[0.47,0.87],[0.24,0.80],[0.35,0.74],[0.78,0.72],[-1.99,0.46],[-0.39,0.18],[-0.24,0.08],[0.12,0.095],[0.12,0.23],[0.32,0.26]];

const legendLabels = ["GO:0015979 photosynthesis", "+ functional category \u201cphotosynthesis\u201d", "GO:0005739 mitochondrion"];

const gray = "#adadad";

const svg = d3.select("#chart").append("svg")
    .attr("width", width)
    .attr("height", height);

const x = d3.scaleLinear().domain([-11.41, 10.85]).range([104.6, 1301.2]);
const y = d3.scaleLinear().domain([-0.322, 6.57]).range([966, 81]);

const line = d3.line().x(d => x(d[0])).y(d => y(d[1]));

// solid middle first, squares on top
const dense = [denseCore, denseLumpLeft, denseLumpUpper];
svg.append("g").selectAll("path").data(dense).join("path")
    .attr("d", d => line(d) + "Z")
    .attr("fill", gray)
    .attr("stroke", gray)
    .attr("stroke-width", 9)
    .attr("stroke-linejoin", "round");

const grayPoints = [...grayUpperLeft, ...grayMiddleLeft, ...grayInnerLeft, ...grayLowerLeft, ...grayUpperRight, ...grayLowerRight];
svg.append("g").selectAll("rect").data(grayPoints).join("rect")
    .attr("x", d => x(d[0]) - 4.25)
    .attr("y", d => y(d[1]) - 4.25)
    .attr("width", 8.5)
    .attr("height", 8.5)
    .attr("fill", "none")
    .attr("stroke", gray)
    .attr("stroke-width", 2);

svg.append("g").selectAll("path").data([curveLeft, curveRight]).join("path")
    .attr("d", line)
    .attr("fill", "none")
    .attr("stroke", "#000")
    .attr("stroke-width", 3.5);

function dots(points, color){
    svg.append("g").selectAll("circle").data(points).join("circle")
        .attr("cx", d => x(d[0]))
        .attr("cy", d => y(d[1]))
        .attr("r", 5.4)
        .attr("fill", color);
}
dots(greenPoints, "#2b8000");
dots(bluePoints, "#4488ff");

const xAxis = svg.append("g")
    .attr("transform", "translate(0,966)")
    .call(d3.axisBottom(x).tickValues(xTicks).tickFormat(d3.format("d")).tickSize(13).tickSizeOuter(0).tickPadding(8));
const yAxis = svg.append("g")
    .attr("transform", "translate(104.6,0)")
    .call(d3.axisLeft(y).tickValues(yTicks).tickFormat(d3.format("d")).tickSize(13).tickSizeOuter(0));

[xAxis, yAxis].forEach(a => {
    a.select(".domain").attr("stroke-width", 2.5);
    a.selectAll(".tick line").attr("stroke-width", 2);
    a.selectAll("text").attr("font-size", 22).attr("fill", "#222")
        .style("font-family", '"Liberation Sans", Arial, sans-serif');
});
xAxis.selectAll("text").text(d => d < 0 ? "-" + Math.abs(d) : d);

// R style: y tick labels run along the axis
yAxis.selectAll(".tick text")
    .attr("x", null).attr("dy", null)
    .attr("text-anchor", "middle")
    .attr("transform", "translate(-19,0) rotate(-90)");

function label(text, px, py, size, opts = {}){
    return svg.append("text")
        .attr("x", px).attr("y", py)
        .attr("font-size", size)
        .attr("font-weight", opts.weight || "normal")
        .attr("text-anchor", opts.anchor || "start")
        .text(text);
}

label("mitochondrion vs chloroplast", 767, 35, 38, {weight: "bold", anchor: "middle"});
label("FDR: 0.05", 881, 133, 29);
label("difference", 730, 1051, 32.7, {anchor: "middle"});
label("mitochondrial/chloroplast fraction", 732, 1091, 25.6, {anchor: "middle"});

// legend
svg.append("circle").attr("cx", 1137).attr("cy", 18).attr("r", 7).attr("fill", "#548235");
svg.append("circle").attr("cx", 1137).attr("cy", 83).attr("r", 7).attr("fill", "#0070c0");
label(legendLabels[0], 1158, 26, 25.3);
label(legendLabels[1], 1158, 56, 25.3);
label(legendLabels[2], 1158, 92, 25.3);

// y title with subscript
const yTitle = svg.append("text")
    .attr("transform", "translate(36,593) rotate(-90)")
    .attr("font-size", 34);
yTitle.append("tspan").text("-log");
yTitle.append("tspan").attr("font-size", 21).attr("dy", 6).text("10");
yTitle.append("tspan").attr("dy", -6).text(" p");

svg.append("text")
    .attr("transform", "translate(58,514) rotate(-90)")
    .attr("font-size", 11)
    .style("fill", "#335")
    .attr("xml:space", "preserve")
    .text("-     .");
</script>
</body>
</html>
